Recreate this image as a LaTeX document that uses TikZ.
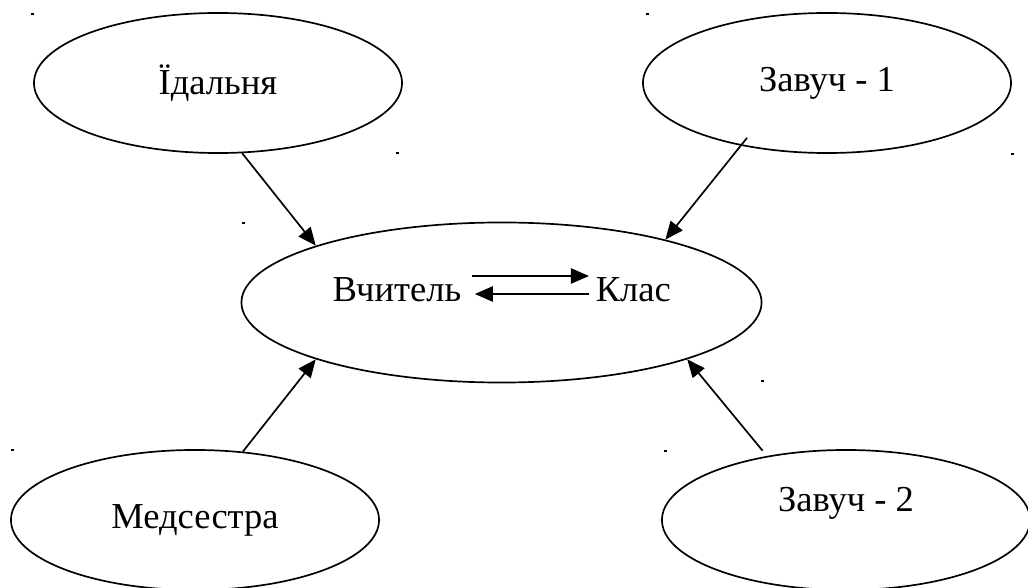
\documentclass[tikz,border=0pt]{standalone}
\usepackage{fontspec}
\setmainfont{Liberation Serif}
\usetikzlibrary{positioning, arrows.meta, shapes.geometric}

\begin{document}
\begin{tikzpicture}[x=0.025cm, y=0.025cm, line width=1.2pt,
    font=\fontsize{26}{31}\selectfont,
    place/.style={ellipse, draw, minimum width=9.2cm, minimum height=3.5cm, inner sep=0pt},
    word/.style={inner sep=0pt},
    arr/.style={-{Triangle[length=0.45cm, width=0.38cm]}}]
    \useasboundingbox (0,0) rectangle (1028,587);

    % Nodes
    \node[place] (idal) at (218,504) {Їдальня};
    \node[place] (zav1) at (827,504) {Завуч - 1};
    \node[place, minimum width=13cm, minimum height=4cm] (cent) at (501.5,284.5) {};
    \node[word, anchor=base east] (vch) at (462,285) {Вчитель};
    \node[word, anchor=base west] (klas) at (595,285) {Клас};
    \node[place] (med) at (195,67) {Медсестра};
    \node[place] (zav2) at (846,67) {};
    \node[word, anchor=base] (zav2txt) at (846,75) {Завуч - 2};

    % Teacher <-> class inside the middle ellipse
    \draw[arr, shorten <=0.25cm, shorten >=0.15cm] ([yshift=0.65cm]vch.base east) -- ([yshift=0.65cm]klas.base west);
    \draw[arr, shorten <=0.15cm, shorten >=0.32cm] ([yshift=0.2cm]klas.base west) -- ([yshift=0.2cm]vch.base east);

    % Edges pointing into the middle ellipse
    \draw[arr] (idal.-71) -- (cent.163);
    \draw[arr, shorten <=-0.25cm] (zav1.216) -- (cent.21);
    \draw[arr] (med.55) -- (cent.197);
    \draw[arr, shorten <=0.17cm] (zav2.141.6) -- (cent.343);

    % stray marks
    \foreach \x/\y in {32/573, 647/573, 397/434, 1012/433, 243/364, 762/206, 12/137, 665/136}
        \fill (\x-1.5,\y-1) rectangle ++(3,2);
\end{tikzpicture}
\end{document}
